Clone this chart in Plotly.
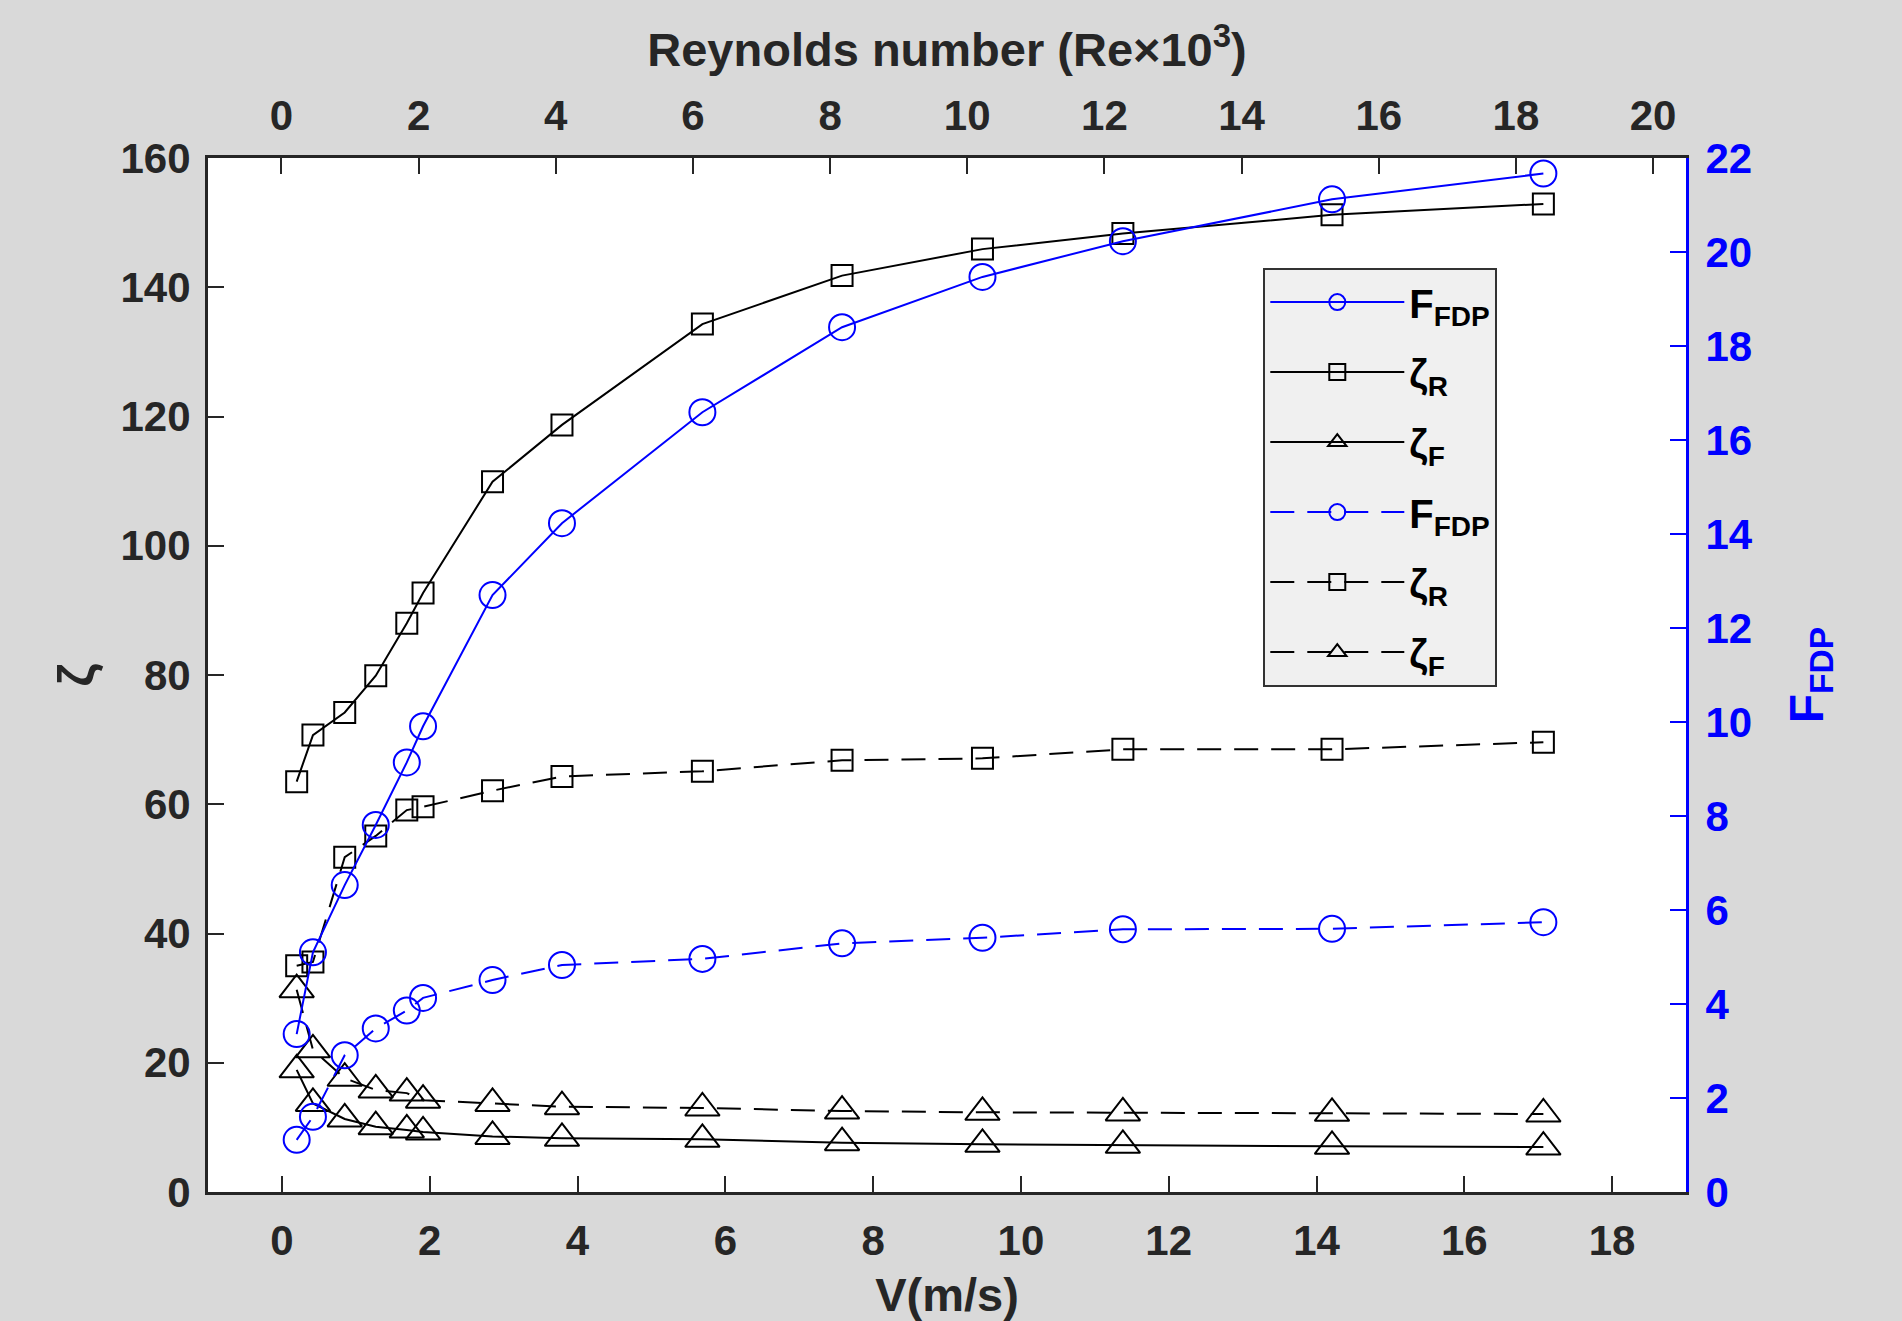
import plotly.graph_objects as go

# Flow velocity V (m/s)
V = [0.20, 0.42, 0.85, 1.27, 1.69, 1.91, 2.85, 3.79, 5.69, 7.58, 9.48, 11.38, 14.21, 17.07]

# Solid-line series
F_solid = [3.36, 5.10, 6.53, 7.81, 9.14, 9.91, 12.70, 14.23, 16.59, 18.40, 19.47, 20.23, 21.12, 21.67]
zR_solid = [63.5, 70.7, 74.2, 79.9, 88.0, 92.7, 109.9, 118.7, 134.3, 141.8, 145.9, 148.3, 151.2, 152.9]
zF_solid = [18.9, 13.7, 11.3, 10.1, 9.6, 9.3, 8.6, 8.3, 8.15, 7.63, 7.38, 7.22, 7.07, 6.96]

# Dashed-line series
F_dash = [1.11, 1.60, 2.91, 3.48, 3.86, 4.13, 4.51, 4.83, 4.96, 5.29, 5.41, 5.59, 5.60, 5.74]
zR_dash = [35.0, 35.6, 51.8, 55.1, 59.1, 59.6, 62.1, 64.3, 65.1, 66.8, 67.1, 68.5, 68.5, 69.6]
zF_dash = [31.3, 22.0, 17.6, 15.8, 15.3, 14.2, 13.7, 13.2, 13.0, 12.53, 12.33, 12.23, 12.18, 12.07]

# Tick labels
v_ticks = [0, 2, 4, 6, 8, 10, 12, 14, 16, 18]
re_ticks = [0, 2, 4, 6, 8, 10, 12, 14, 16, 18, 20]
z_ticks = [0, 20, 40, 60, 80, 100, 120, 140, 160]
f_ticks = [0, 2, 4, 6, 8, 10, 12, 14, 16, 18, 20, 22]

FONT = "Liberation Sans, Arial, sans-serif"
DARK = "#262626"
BLUE = "#0000ff"
DASH = "24px,13px"

fig = go.Figure()

def add(y, name, color, symbol, size, dash, axis, group):
    fig.add_trace(go.Scatter(
        x=V, y=y, name=name, mode="lines+markers",
        line=dict(color=color, width=2, dash=dash),
        marker=dict(symbol=symbol, size=size, color=color,
                    line=dict(color=color, width=2)),
        yaxis=axis, legendgroup=group,
    ))

add(F_solid, "F<sub>FDP</sub>", BLUE, "circle-open", 26, "solid", "y2", "g1")
add(zR_solid, "ζ<sub>R</sub>", "black", "square-open", 21, "solid", "y", "g2")
add(zF_solid, "ζ<sub>F</sub>", "black", "triangle-up-open", 30, "solid", "y", "g3")
add(F_dash, "F<sub>FDP</sub>", BLUE, "circle-open", 26, DASH, "y2", "g4")
add(zR_dash, "ζ<sub>R</sub>", "black", "square-open", 21, DASH, "y", "g5")
add(zF_dash, "ζ<sub>F</sub>", "black", "triangle-up-open", 30, DASH, "y", "g6")

# empty trace so that the Reynolds-number (top) axis is drawn
fig.add_trace(go.Scatter(x=re_ticks, y=[None] * len(re_ticks), xaxis="x2", yaxis="y",
                         mode="lines", showlegend=False, hoverinfo="skip"))

tickfont = dict(family=FONT, size=42, color=DARK, weight="bold")
titlefont = dict(family=FONT, size=47, color=DARK, weight="bold")

fig.update_layout(
    width=1902, height=1321,
    paper_bgcolor="#d9d9d9", plot_bgcolor="white",
    margin=dict(l=208, r=216, t=158, b=129),
    showlegend=True,
    legend=dict(
        x=0.714, y=0.894, xanchor="left", yanchor="top",
        bgcolor="#f0f0f0", bordercolor="#333333", borderwidth=2,
        font=dict(family=FONT, size=40, color="black", weight="bold"),
        itemwidth=134, tracegroupgap=15,
    ),
    xaxis=dict(
        range=[-1, 19], tickvals=v_ticks, ticks="inside", ticklen=16,
        tickwidth=2, tickcolor=DARK, showline=True, linecolor=DARK, linewidth=3,
        showgrid=False, zeroline=False, tickfont=tickfont, ticklabelstandoff=10,
        title=dict(text="V(m/s)", font=titlefont, standoff=29),
        automargin=False,
    ),
    xaxis2=dict(
        range=[-1.07, 20.48], tickvals=re_ticks, overlaying="x", side="top", anchor="y",
        ticks="inside", ticklen=16, tickwidth=2, tickcolor=DARK,
        showline=True, linecolor=DARK, linewidth=3, showgrid=False, zeroline=False,
        tickfont=tickfont, ticklabelstandoff=8,
        title=dict(text="Reynolds number (Re×10<sup>3</sup>)", font=titlefont, standoff=11),
        automargin=False,
    ),
    yaxis=dict(
        range=[0, 160], tickvals=z_ticks, ticks="inside", ticklen=16, tickwidth=2,
        tickcolor=DARK, showline=True, linecolor=DARK, linewidth=3,
        showgrid=False, zeroline=False, tickfont=tickfont, ticklabelstandoff=6,
        title=dict(text="ζ", font=dict(family=FONT, size=50, color=DARK, weight="bold"), standoff=12),
        automargin=False,
    ),
    yaxis2=dict(
        range=[0, 22], tickvals=f_ticks, overlaying="y", side="right", anchor="x",
        ticks="inside", ticklen=16, tickwidth=2, tickcolor=BLUE,
        showline=True, linecolor=BLUE, linewidth=3, showgrid=False, zeroline=False,
        tickfont=dict(family=FONT, size=42, color=BLUE, weight="bold"), ticklabelstandoff=8,
        title=dict(text="F<sub>FDP</sub>", font=dict(family=FONT, size=48, color=BLUE, weight="bold"), standoff=38),
        automargin=False,
    ),
)

fig.write_html("out.html", config={"displayModeBar": False},
               post_script="document.body.style.margin='0';document.body.style.background='#d9d9d9';")
